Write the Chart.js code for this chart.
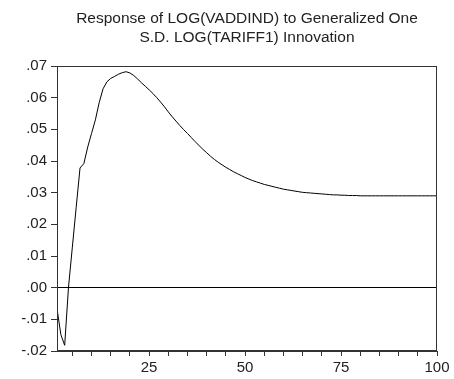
<!DOCTYPE html>
<html>
<head>
<meta charset="utf-8">
<script src="https://cdn.jsdelivr.net/npm/chart.js@4.4.1/dist/chart.umd.min.js"></script>
<style>
  html, body { margin: 0; padding: 0; background: #fff; }
  #wrap { width: 454px; height: 379px; }
</style>
</head>
<body>
<div id="wrap"><canvas id="myChart" width="454" height="379"></canvas></div>
<script>
// impulse response periods 1..100
const periods = Array.from({ length: 100 }, (_, i) => i + 1)

// response of LOG(VADDIND)
const response = [
  -0.0066, -0.0148, -0.0182, 0.0002, 0.0128, 0.0254, 0.0378, 0.0392, 0.0444, 0.0487,
  0.0530, 0.0585, 0.0628, 0.0650, 0.0661, 0.0667, 0.0674, 0.0679, 0.0682, 0.0678,
  0.0670, 0.0659, 0.0647, 0.0636, 0.0625, 0.0613, 0.0600, 0.0586, 0.0571, 0.0555,
  0.0540, 0.0526, 0.0512, 0.0499, 0.0487, 0.0474, 0.0461, 0.0449, 0.0437, 0.0426,
  0.0415, 0.0405, 0.0396, 0.0388, 0.0380, 0.0373, 0.0366, 0.0360, 0.0354, 0.0348,
  0.0343, 0.0338, 0.0334, 0.0330, 0.0326, 0.0323, 0.0320, 0.0317, 0.0314, 0.0311,
  0.0309, 0.0307, 0.0305, 0.0303, 0.0301, 0.0300, 0.0299, 0.0298, 0.0297, 0.0296,
  0.0295, 0.0294, 0.0293, 0.0293, 0.0292, 0.0292, 0.0291, 0.0291, 0.0291, 0.0290,
  0.0290, 0.0290, 0.0290, 0.0290, 0.0290, 0.0290, 0.0290, 0.0290, 0.0290, 0.0290,
  0.0290, 0.0290, 0.0290, 0.0290, 0.0290, 0.0290, 0.0290, 0.0290, 0.0290, 0.0290
]

const xTicks = [5, 10, 15, 20, 25, 30, 35, 40, 45, 50, 55, 60, 65, 70, 75, 80, 85, 90, 95, 100]
const xLabelled = [25, 50, 75, 100]
const yTicks = [-0.02, -0.01, 0, 0.01, 0.02, 0.03, 0.04, 0.05, 0.06, 0.07]

const titleLines = [
  'Response of LOG(VADDIND) to Generalized One',
  'S.D. LOG(TARIFF1) Innovation'
]

const FONT = "'Liberation Sans', Arial, sans-serif"

// box round the plot area
const frame = {
  id: 'frame',
  afterDatasetsDraw(chart) {
    const a = chart.chartArea
    const ctx = chart.ctx
    ctx.save()
    ctx.strokeStyle = '#333'
    ctx.lineWidth = 1
    ctx.strokeRect(Math.round(a.left) + 0.5, Math.round(a.top) + 0.5,
      Math.round(a.right - a.left) - 1, Math.round(a.bottom - a.top) - 1)
    ctx.restore()
  }
}

const fmtY = v => {
  const s = Math.abs(v).toFixed(2).replace(/^0/, '')
  return (v < -1e-9 ? '-' : '') + s
}

new Chart(document.getElementById('myChart'), {
  type: 'line',
  data: {
    labels: periods,
    datasets: [{
      data: response,
      borderColor: '#000',
      borderWidth: 1,
      pointRadius: 0,
      tension: 0,
      fill: false
    }]
  },
  options: {
    responsive: false,
    animation: false,
    devicePixelRatio: 1,
    layout: { padding: { left: 0, right: 17, top: 0, bottom: 0 } },
    plugins: {
      legend: { display: false },
      tooltip: { enabled: false },
      title: {
        display: true,
        fullSize: false,
        text: titleLines,
        color: '#222',
        font: { family: FONT, size: 15.5, weight: 'normal', lineHeight: 1.226 },
        padding: { top: 9.5, bottom: 18.5 }
      }
    },
    scales: {
      x: {
        type: 'linear',
        min: 1,
        max: 100,
        afterBuildTicks: s => { s.ticks = xTicks.map(v => ({ value: v })) },
        afterFit: s => { s.height = 28 },
        ticks: {
          autoSkip: false,
          maxRotation: 0,
          padding: 3,
          color: '#222',
          font: { family: FONT, size: 15 },
          callback: v => xLabelled.includes(v) ? String(v) : ''
        },
        grid: { drawOnChartArea: false, tickLength: 5, color: '#333' },
        border: { display: true, color: '#333' }
      },
      y: {
        min: -0.02,
        max: 0.07,
        afterBuildTicks: s => { s.ticks = yTicks.map(v => ({ value: v })) },
        afterFit: s => { s.width = 57 },
        ticks: {
          autoSkip: false,
          padding: 4,
          color: '#222',
          font: { family: FONT, size: 15 },
          callback: v => fmtY(v)
        },
        grid: {
          color: c => (c.tick && Math.abs(c.tick.value) < 1e-9) ? '#000' : 'rgba(0,0,0,0)',
          tickColor: '#333',
          tickLength: 6
        },
        border: { display: true, color: '#333' }
      }
    }
  },
  plugins: [frame]
})
</script>
</body>
</html>
